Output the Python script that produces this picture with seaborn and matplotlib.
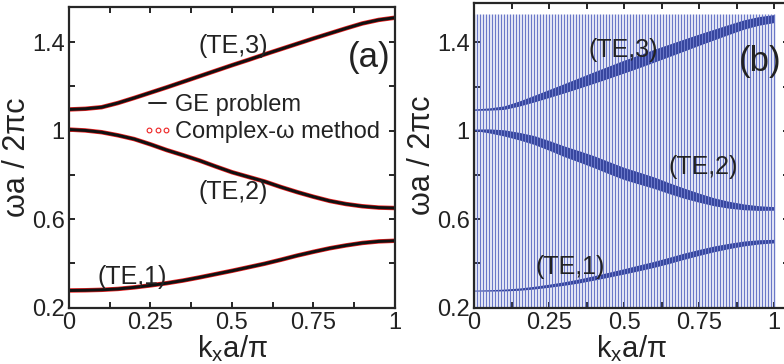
import numpy as np
import pandas as pd
import matplotlib
matplotlib.use("Agg")
import matplotlib.pyplot as plt
from matplotlib.lines import Line2D
from matplotlib.ticker import FixedLocator
import seaborn as sns

# band data (kx in units of pi/a, omega a / 2 pi c)
kx = [0.0, 0.05, 0.1, 0.15, 0.2, 0.25, 0.3, 0.35, 0.4, 0.45, 0.5,
      0.55, 0.6, 0.65, 0.7, 0.75, 0.8, 0.85, 0.9, 0.95, 1.0]
te1 = [0.277, 0.278, 0.280, 0.284, 0.291, 0.300, 0.310, 0.322, 0.336, 0.351, 0.366,
       0.382, 0.398, 0.416, 0.435, 0.452, 0.468, 0.481, 0.492, 0.499, 0.502]
te2 = [1.005, 1.001, 0.993, 0.979, 0.962, 0.938, 0.912, 0.889, 0.865, 0.838, 0.812,
       0.791, 0.770, 0.745, 0.722, 0.701, 0.682, 0.668, 0.658, 0.652, 0.650]
te3 = [1.096, 1.099, 1.106, 1.125, 1.148, 1.172, 1.196, 1.221, 1.246, 1.271, 1.296,
       1.320, 1.345, 1.369, 1.393, 1.417, 1.440, 1.463, 1.485, 1.501, 1.511]

# thickness of the dark bands in panel (b)
te1_width = [0.004, 0.006, 0.008, 0.010, 0.012, 0.014, 0.016, 0.018, 0.020, 0.022, 0.024,
             0.026, 0.027, 0.028, 0.028, 0.027, 0.026, 0.024, 0.022, 0.019, 0.016]
te2_width = [0.006, 0.018, 0.028, 0.034, 0.040, 0.044, 0.048, 0.051, 0.054, 0.055, 0.055,
             0.054, 0.052, 0.049, 0.046, 0.041, 0.036, 0.031, 0.026, 0.021, 0.016]
te3_width = [0.006, 0.010, 0.016, 0.023, 0.030, 0.036, 0.042, 0.047, 0.052, 0.055, 0.058,
             0.058, 0.058, 0.056, 0.054, 0.051, 0.048, 0.045, 0.042, 0.039, 0.036]

mode_names = ["(TE,1)", "(TE,2)", "(TE,3)"]
x_ticks = [0, 0.25, 0.5, 0.75, 1]
x_labels = ["0", "0.25", "0.5", "0.75", "1"]
y_ticks = [0.2, 0.6, 1.0, 1.4]
y_labels = ["0.2", "0.6", "1", "1.4"]

# scan lines of panel (b)
scan_kx = np.linspace(0, 1, 101)
scan_top = 1.53

df = pd.DataFrame({
    "kx": kx * 3,
    "omega": te1 + te2 + te3,
    "mode": [m for m in mode_names for _ in kx],
})

sns.set_style("ticks")
plt.rcParams["font.family"] = ["Liberation Sans", "DejaVu Sans"]
plt.rcParams["mathtext.fontset"] = "custom"
plt.rcParams["mathtext.rm"] = "Liberation Sans"
plt.rcParams["mathtext.it"] = "Liberation Sans"

txt = "#222222"
fig = plt.figure(figsize=(7.84, 3.64), dpi=100)
ax1 = fig.add_axes([0.0880, 0.1552, 0.4158, 0.8247])
ax2 = fig.add_axes([0.6046, 0.1552, 0.4018, 0.8357])


def style_axes(ax, ylim_top, xlim_right):
    ax.set_xlim(0, xlim_right)
    ax.set_ylim(0.2, ylim_top)
    ax.xaxis.set_major_locator(FixedLocator(x_ticks))
    ax.xaxis.set_minor_locator(FixedLocator([0.125, 0.375, 0.625, 0.875]))
    ax.yaxis.set_major_locator(FixedLocator(y_ticks))
    ax.yaxis.set_minor_locator(FixedLocator([0.4, 0.8, 1.2]))
    ax.set_xticklabels(x_labels)
    ax.set_yticklabels(y_labels)
    ax.tick_params(which="both", direction="in", top=True, right=True,
                   length=4, width=1.2, labelsize=17, colors="black",
                   labelcolor=txt, pad=3)
    for s in ax.spines.values():
        s.set_linewidth(1.6)
        s.set_visible(True)
    ax.set_xlabel(r"k$_{\mathregular{x}}$a/π", fontsize=21, color=txt, labelpad=-0.5)
    ax.set_ylabel("ωa / 2πc", fontsize=22, color=txt, labelpad=0)


# (a) GE problem vs complex-omega method
sns.lineplot(data=df, x="kx", y="omega", units="mode", estimator=None,
             color="#ee2222", lw=3.2, ax=ax1, legend=False)
sns.lineplot(data=df, x="kx", y="omega", units="mode", estimator=None,
             color="#111111", lw=2.2, ax=ax1, legend=False)
style_axes(ax1, 1.558, 1.0)

ax1.text(0.503, 1.385, "(TE,3)", fontsize=18, color=txt, ha="center", va="center")
ax1.text(0.503, 0.724, "(TE,2)", fontsize=18, color=txt, ha="center", va="center")
ax1.text(0.194, 0.339, "(TE,1)", fontsize=18, color=txt, ha="center", va="center")
ax1.text(0.921, 1.332, "(a)", fontsize=25, color=txt, ha="center", va="center")

handles = [
    Line2D([], [], color="#111111", lw=1.3),
    Line2D([], [], ls="none", marker="o", mfc="none", mec="#ee2222", ms=3.4, mew=0.8),
]
leg = ax1.legend(handles, ["GE problem", "Complex-ω method"], loc="upper left",
                 bbox_to_anchor=(0.225, 0.71), frameon=False, fontsize=17,
                 numpoints=3, handlelength=1.3, handletextpad=0.1,
                 labelspacing=0.2, borderpad=0, borderaxespad=0)
for t in leg.get_texts():
    t.set_color(txt)

# (b) scan lines plus bands
ax2.vlines(scan_kx, 0.2, scan_top, color="#6a78c8", lw=1.0)
bands = [(te1, te1_width), (te2, te2_width), (te3, te3_width)]
for curve, width in bands:
    c = np.array(curve)
    w = np.array(width)
    ax2.fill_between(kx, c - 0.6 * w, c + 0.4 * w, color="#2b3a96", lw=0)
style_axes(ax2, 1.5765, 1.05)

ax2.text(0.498, 1.365, "(TE,3)", fontsize=18, color=txt, ha="center", va="center")
ax2.text(0.764, 0.837, "(TE,2)", fontsize=18, color=txt, ha="center", va="center")
ax2.text(0.32, 0.385, "(TE,1)", fontsize=18, color=txt, ha="center", va="center")
ax2.text(0.953, 1.312, "(b)", fontsize=25, color=txt, ha="center", va="center")

fig.savefig("out.png", dpi=100)
